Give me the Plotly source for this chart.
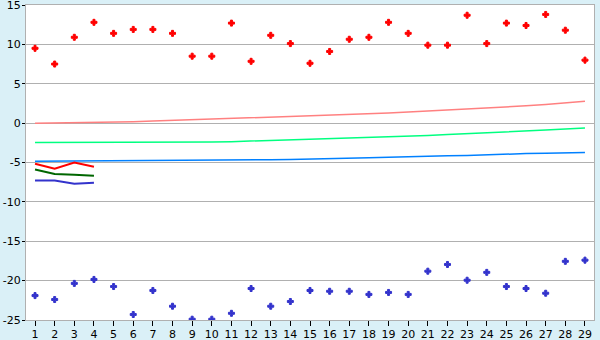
import plotly.graph_objects as go

x_days = list(range(1, 30))

red_points = [9.5, 7.5, 10.9, 12.8, 11.4, 11.9, 11.9, 11.4, 8.5, 8.5,
              12.7, 7.85, 11.15, 10.1, 7.6, 9.1, 10.65, 10.9, 12.8, 11.4,
              9.9, 9.9, 13.7, 10.1, 12.7, 12.4, 13.8, 11.8, 8.0]
blue_points = [-21.9, -22.4, -20.35, -19.85, -20.75, -24.3, -21.25, -23.25, -24.9, -24.9,
               -24.15, -21.0, -23.25, -22.65, -21.25, -21.35, -21.35, -21.75, -21.5, -21.75,
               -18.8, -17.95, -19.95, -18.95, -20.75, -21.0, -21.6, -17.55, -17.4]
pink_line = [0.0, 0.02, 0.05, 0.08, 0.12, 0.18, 0.26, 0.34, 0.42, 0.5,
             0.58, 0.65, 0.72, 0.8, 0.9, 0.98, 1.07, 1.17, 1.28, 1.4,
             1.52, 1.64, 1.78, 1.92, 2.06, 2.2, 2.38, 2.56, 2.78]
green_line = [-2.45, -2.45, -2.45, -2.45, -2.45, -2.45, -2.44, -2.43, -2.42, -2.4,
              -2.35, -2.28, -2.21, -2.14, -2.07, -1.99, -1.91, -1.83, -1.75, -1.67,
              -1.57, -1.46, -1.36, -1.25, -1.13, -1.0, -0.87, -0.74, -0.62]
azure_line = [-4.85, -4.84, -4.83, -4.82, -4.8, -4.78, -4.76, -4.73, -4.72, -4.71,
              -4.7, -4.68, -4.65, -4.62, -4.58, -4.52, -4.46, -4.39, -4.32, -4.24,
              -4.19, -4.15, -4.1, -4.0, -3.92, -3.87, -3.84, -3.8, -3.72]

short_x = [1, 2, 3, 4]
short_red = [-5.15, -5.8, -5.0, -5.55]
short_green = [-5.9, -6.45, -6.55, -6.67]
short_blue = [-7.27, -7.3, -7.7, -7.57]

y_ticks = [-25, -20, -15, -10, -5, 0, 5, 10, 15]
y_tick_labels = ["-25", "-20", "-15", "-10", "-5", "0", "5", "10", "15"]

fig = go.Figure()
fig.add_trace(go.Scatter(x=x_days, y=pink_line, mode="lines",
                         line=dict(color="#FF8080", width=1.5)))
fig.add_trace(go.Scatter(x=x_days, y=green_line, mode="lines",
                         line=dict(color="#00FF80", width=1.5)))
fig.add_trace(go.Scatter(x=x_days, y=azure_line, mode="lines",
                         line=dict(color="#0080FF", width=1.5)))
fig.add_trace(go.Scatter(x=short_x, y=short_red, mode="lines",
                         line=dict(color="#FF0000", width=2)))
fig.add_trace(go.Scatter(x=short_x, y=short_green, mode="lines",
                         line=dict(color="#006600", width=2)))
fig.add_trace(go.Scatter(x=short_x, y=short_blue, mode="lines",
                         line=dict(color="#3333CC", width=2)))
fig.add_trace(go.Scatter(x=x_days, y=red_points, mode="markers",
                         marker=dict(symbol="cross", size=5, color="#FF0000",
                                     line=dict(color="#FF0000", width=1))))
fig.add_trace(go.Scatter(x=x_days, y=blue_points, mode="markers",
                         marker=dict(symbol="cross", size=5, color="#3333CC",
                                     line=dict(color="#3333CC", width=1))))

fig.update_layout(
    width=600, height=340,
    margin=dict(l=26, r=6, t=5, b=20, autoexpand=False),
    paper_bgcolor="#DAF0F7",
    plot_bgcolor="#FFFFFF",
    showlegend=False,
    hovermode=False,
    font=dict(family="DejaVu Sans", size=11, color="#000000"),
)
fig.update_xaxes(
    range=[0.54, 29.46], tickmode="array", tickvals=x_days,
    ticktext=[str(v) for v in x_days],
    showgrid=False, zeroline=False, automargin=False,
    showline=True, linecolor="#B0B0B0", linewidth=1, mirror=True,
    ticks="outside", ticklen=5, tickcolor="#000000", tickwidth=1,
    ticklabelstandoff=-1, ticklabeloverflow="allow",
)
fig.update_yaxes(
    range=[-25, 15], tickmode="array", tickvals=y_ticks, ticktext=y_tick_labels,
    showgrid=True, gridcolor="#B0B0B0", gridwidth=1, zeroline=False,
    automargin=False,
    showline=True, linecolor="#B0B0B0", linewidth=1, mirror=True,
    ticks="outside", ticklen=3, tickcolor="#000000", tickwidth=1,
    ticklabelstandoff=-1, ticklabeloverflow="allow",
)

fig.write_html("out.html")
